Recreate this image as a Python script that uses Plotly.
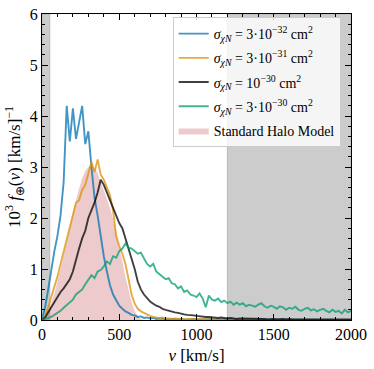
import plotly.graph_objects as go

# velocity grid [km/s]
v = list(range(0, 2001, 20))

# 10^3 f(v) for each cross section
f_32 = [0.0, 0.25, 0.6, 1.0, 1.35, 1.65, 2.05, 2.7, 4.2, 3.5,
        4.15, 3.55, 3.85, 4.2, 3.45, 3.7, 3.0, 2.4, 2.05, 1.65,
        1.25, 0.95, 0.68, 0.5, 0.38, 0.28, 0.22, 0.17, 0.14, 0.1,
        0.09, 0.06, 0.07, 0.04, 0.05, 0.03, 0.04, 0.02, 0.03, 0.02,
        0.02, 0.01, 0.02, 0.01, 0.01, 0.02, 0.01, 0.0, 0.01, 0.02,
        0.01, 0.01, 0.0, 0.01, 0.02, 0.01, 0.0, 0.01, 0.01, 0.0,
        0.01, 0.02, 0.0, 0.01, 0.0, 0.01, 0.01, 0.0, 0.01, 0.0,
        0.0, 0.01, 0.0, 0.01, 0.0, 0.0, 0.01, 0.0, 0.0, 0.01,
        0.0, 0.0, 0.01, 0.0, 0.0, 0.0, 0.01, 0.0, 0.0, 0.0,
        0.01, 0.0, 0.0, 0.0, 0.0, 0.01, 0.0, 0.0, 0.0, 0.0, 0.0]

f_31 = [0.0, 0.08, 0.25, 0.45, 0.62, 0.85, 1.1, 1.35, 1.6, 1.85,
        2.05, 2.3, 2.35, 2.55, 2.65, 2.85, 3.1, 2.9, 3.15, 2.85,
        2.75, 2.6, 2.45, 2.15, 1.65, 1.45, 1.3, 1.1, 0.8, 0.5,
        0.32, 0.22, 0.17, 0.14, 0.1, 0.08, 0.06, 0.05, 0.04, 0.05,
        0.03, 0.03, 0.02, 0.03, 0.02, 0.02, 0.01, 0.02, 0.02, 0.01,
        0.02, 0.01, 0.01, 0.02, 0.01, 0.01, 0.01, 0.02, 0.01, 0.0,
        0.01, 0.01, 0.0, 0.01, 0.01, 0.0, 0.01, 0.0, 0.01, 0.0,
        0.0, 0.01, 0.0, 0.0, 0.01, 0.0, 0.0, 0.01, 0.0, 0.0,
        0.0, 0.01, 0.0, 0.0, 0.0, 0.0, 0.01, 0.0, 0.0, 0.0,
        0.0, 0.0, 0.01, 0.0, 0.0, 0.0, 0.0, 0.0, 0.0, 0.0, 0.0]

f_30 = [0.0, 0.05, 0.15, 0.25, 0.35, 0.45, 0.55, 0.62, 0.72, 0.8,
        0.95, 1.2, 1.4, 1.6, 1.75, 2.0, 2.15, 2.3, 2.5, 2.75,
        2.65, 2.5, 2.35, 2.2, 2.02, 1.9, 1.8, 1.6, 1.4, 1.25,
        1.0, 0.75, 0.6, 0.5, 0.42, 0.36, 0.32, 0.28, 0.26, 0.22,
        0.2, 0.18, 0.17, 0.15, 0.14, 0.12, 0.11, 0.1, 0.1, 0.09,
        0.08, 0.07, 0.07, 0.06, 0.06, 0.05, 0.05, 0.04, 0.05, 0.04,
        0.03, 0.04, 0.03, 0.02, 0.03, 0.03, 0.02, 0.03, 0.02, 0.02,
        0.03, 0.02, 0.02, 0.01, 0.02, 0.02, 0.01, 0.02, 0.02, 0.01,
        0.02, 0.01, 0.01, 0.02, 0.01, 0.01, 0.02, 0.01, 0.01, 0.01,
        0.02, 0.01, 0.01, 0.01, 0.01, 0.02, 0.01, 0.01, 0.01, 0.01, 0.01]

f_3e30 = [0.0, 0.02, 0.04, 0.06, 0.1, 0.14, 0.18, 0.24, 0.3, 0.36,
          0.4, 0.5, 0.55, 0.6, 0.7, 0.78, 0.88, 0.82, 0.95, 0.98,
          1.05, 1.15, 1.1, 1.25, 1.22, 1.35, 1.4, 1.5, 1.42, 1.4,
          1.35, 1.3, 1.32, 1.2, 1.1, 1.05, 1.1, 0.95, 0.9, 0.85,
          0.8, 0.82, 0.72, 0.7, 0.62, 0.66, 0.55, 0.58, 0.5, 0.48,
          0.45, 0.52, 0.42, 0.25, 0.48, 0.4, 0.38, 0.42, 0.35, 0.38,
          0.33, 0.36, 0.3, 0.34, 0.3, 0.33, 0.27, 0.3, 0.28, 0.26,
          0.3, 0.33, 0.27, 0.24, 0.28, 0.26, 0.22, 0.27, 0.25, 0.2,
          0.24, 0.22, 0.26, 0.2, 0.18, 0.22, 0.24, 0.19, 0.21, 0.17,
          0.2, 0.22, 0.18, 0.15, 0.2, 0.16, 0.18, 0.13, 0.2, 0.15, 0.18]

# Standard Halo Model
f_shm = [0.0, 0.05, 0.15, 0.32, 0.52, 0.75, 1.0, 1.28, 1.55, 1.82,
         2.1, 2.35, 2.58, 2.78, 2.92, 3.0, 3.02, 2.98, 2.88, 2.72,
         2.55, 2.38, 2.2, 1.98, 1.72, 1.45, 1.15, 0.85, 0.58, 0.35,
         0.18, 0.07, 0.02, 0.0] + [0.0] * 68

labels = [
    "<i>σ</i><sub><i>χN</i></sub> = 3·10<sup>−32</sup> cm<sup>2</sup>",
    "<i>σ</i><sub><i>χN</i></sub> = 3·10<sup>−31</sup> cm<sup>2</sup>",
    "<i>σ</i><sub><i>χN</i></sub> = 10<sup>−30</sup> cm<sup>2</sup>",
    "<i>σ</i><sub><i>χN</i></sub> = 3·10<sup>−30</sup> cm<sup>2</sup>",
]
colors = ["rgba(1,115,178,0.75)", "rgba(222,143,5,0.75)",
          "rgba(0,0,0,0.75)", "rgba(2,158,115,0.75)"]

serif = "Liberation Serif"

fig = go.Figure()

fig.add_trace(go.Scatter(x=v, y=f_shm, mode="lines", fill="tozeroy",
                         line=dict(width=0, color="rgba(196,78,82,0.3)"),
                         fillcolor="rgba(196,78,82,0.3)",
                         name="Standard Halo Model", legendrank=2000,
                         legendgroup="shm"))

for i, (ys, lab, col) in enumerate(zip([f_32, f_31, f_30, f_3e30], labels, colors)):
    fig.add_trace(go.Scatter(x=v, y=ys, mode="lines", name=lab, legendgroup=f"g{i}",
                             line=dict(color=col, width=1.9)))

# excluded velocity ranges
for x0, x1 in [(0, 50), (1200, 2000)]:
    fig.add_shape(type="rect", xref="x", yref="paper", x0=x0, x1=x1, y0=0, y1=1,
                  fillcolor="#cccccc", line=dict(color="#b8b8b8", width=1),
                  layer="below")

axis = dict(showline=True, linecolor="black", linewidth=1, mirror=True,
            ticks="inside", ticklen=6, tickwidth=1, tickcolor="black",
            showgrid=False, zeroline=False, automargin=False,
            ticklabeloverflow="allow",
            tickfont=dict(family=serif, size=16, color="black"))

fig.update_xaxes(**axis, range=[0, 2000], dtick=500,
                 minor=dict(dtick=100, ticks="inside", ticklen=3, tickcolor="black"),
                 title=dict(text="<i>v</i> [km/s]", standoff=6,
                            font=dict(family=serif, size=17, color="black")))
fig.update_yaxes(**axis, range=[0, 6], dtick=1,
                 minor=dict(dtick=0.2, ticks="inside", ticklen=3, tickcolor="black"),
                 title=dict(text="10<sup>3</sup> <i>f</i><sub>⊕</sub>(<i>v</i>) [km/s]<sup>−1</sup>",
                            standoff=4,
                            font=dict(family=serif, size=17, color="black")))

# top and right ticks
mirror_ax = dict(ticks="inside", ticklen=6, tickwidth=1, tickcolor="black",
                 showticklabels=False, showgrid=False, zeroline=False, showline=False,
                 automargin=False)
fig.update_layout(
    xaxis2=dict(**mirror_ax, overlaying="x", side="top", range=[0, 2000], dtick=500,
                minor=dict(dtick=100, ticks="inside", ticklen=3, tickcolor="black")),
    yaxis2=dict(**mirror_ax, overlaying="y", side="right", range=[0, 6], dtick=1,
                minor=dict(dtick=0.2, ticks="inside", ticklen=3, tickcolor="black")),
)
fig.add_trace(go.Scatter(x=[None], y=[None], xaxis="x2", yaxis="y2",
                         showlegend=False, hoverinfo="skip"))

fig.update_layout(
    width=374, height=369,
    margin=dict(l=42, r=23, t=14, b=49),
    plot_bgcolor="white", paper_bgcolor="white",
    showlegend=True,
    legend=dict(x=0.423, y=0.99, xanchor="left", yanchor="top",
                tracegroupgap=3, itemwidth=30,
                bgcolor="rgba(255,255,255,0.8)", bordercolor="#cccccc", borderwidth=1,
                font=dict(family=serif, size=14, color="black")),
)

# drop the default 8px page margin so the figure sits at the window corner
fig.write_html("out.html", config={"displayModeBar": False},
               post_script="document.body.style.margin='0';")
